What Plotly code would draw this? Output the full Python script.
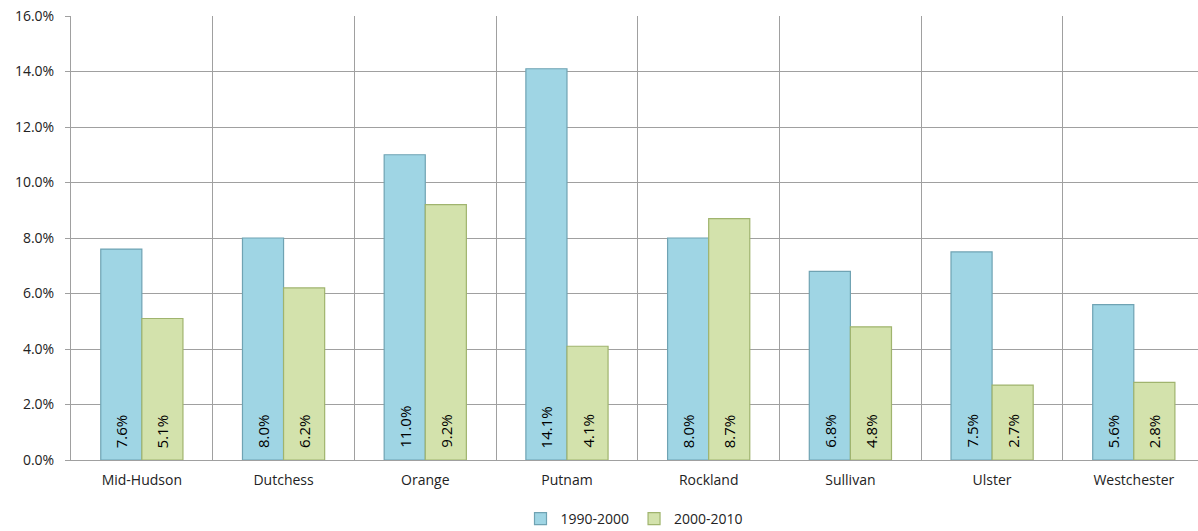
import plotly.graph_objects as go

categories = ["Mid-Hudson", "Dutchess", "Orange", "Putnam", "Rockland", "Sullivan", "Ulster", "Westchester"]
s1_name = "1990-2000"
s1_values = [7.6, 8.0, 11.0, 14.1, 8.0, 6.8, 7.5, 5.6]
s2_name = "2000-2010"
s2_values = [5.1, 6.2, 9.2, 4.1, 8.7, 4.8, 2.7, 2.8]
y_ticks = [0, 2, 4, 6, 8, 10, 12, 14, 16]

font_family = "Open Sans, Liberation Sans, sans-serif"
bargap = 0.42
plot_left, plot_right = 71, 1198
x_range = [-0.5, 7.453]
cat_px = (plot_right - plot_left) / (x_range[1] - x_range[0])
bar_px = cat_px * (1 - bargap) / 2

fig = go.Figure()
fig.add_trace(go.Bar(
    name=s1_name, x=categories, y=[v / 100 for v in s1_values],
    marker=dict(color="#9FD5E4", line=dict(color="#6FA3B3", width=1.2)),
))
fig.add_trace(go.Bar(
    name=s2_name, x=categories, y=[v / 100 for v in s2_values],
    marker=dict(color="#D3E2AC", line=dict(color="#A0B46E", width=1.2)),
))

# data labels, rotated, at the base of each bar
for vals, sign in ((s1_values, -1), (s2_values, 1)):
    for cat, v in zip(categories, vals):
        fig.add_annotation(
            x=cat, y=0, xref="x", yref="y", text=f"{v:.1f}%",
            textangle=-90, showarrow=False, xanchor="center", yanchor="bottom",
            xshift=sign * bar_px / 2, yshift=10,
            font=dict(color="black", size=15, family=font_family),
        )

fig.update_layout(
    width=1198, height=531,
    margin=dict(l=plot_left, r=1198 - plot_right, t=16, b=71, autoexpand=False),
    barmode="group", bargap=bargap, bargroupgap=0.0,
    plot_bgcolor="white", paper_bgcolor="white",
    font=dict(family=font_family, size=13, color="#222"),
    legend=dict(orientation="h", x=0.5, xanchor="center", y=-0.133, yanchor="middle",
                font=dict(size=14), itemwidth=30),
)
fig.update_xaxes(
    type="category", range=x_range, automargin=False,
    tickson="boundaries", showgrid=True, gridcolor="#A0A0A0", gridwidth=1,
    showline=True, linecolor="#A0A0A0", ticks="", ticklen=0,
    ticklabelstandoff=7,
    tickfont=dict(size=14),
)
fig.update_yaxes(
    range=[0, 0.16], tickvals=[t / 100 for t in y_ticks], automargin=False,
    ticktext=[f"{t:.1f}%" for t in y_ticks],
    showgrid=True, gridcolor="#A0A0A0", gridwidth=1,
    showline=True, linecolor="#A0A0A0", ticks="outside", ticklen=5, tickcolor="#A0A0A0",
    ticklabelstandoff=8,
    zeroline=False, tickfont=dict(size=14),
)

fig.write_html("out.html", config={"displayModeBar": False})

# remove the default browser body margin so the figure sits at the page origin
with open("out.html", "r", encoding="utf-8") as f:
    html = f.read()
html = html.replace("<head>", "<head><style>html,body{margin:0;padding:0;overflow:hidden;}</style>", 1)
with open("out.html", "w", encoding="utf-8") as f:
    f.write(html)
